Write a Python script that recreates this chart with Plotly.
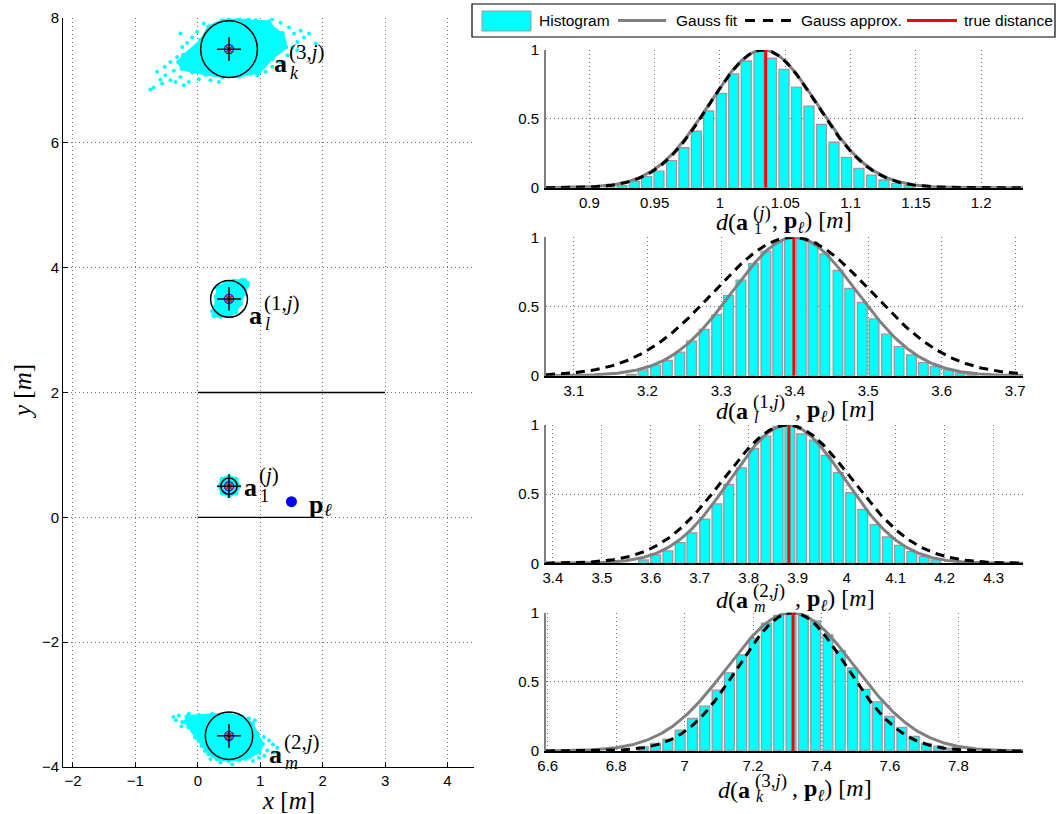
import numpy as np
import plotly.graph_objects as go

W, H = 1056, 814
CYAN = "#00FFFF"
SERIF = "Liberation Serif"
SANS = "Liberation Sans"

# ---------------- left panel: anchors, particle clouds, walls ----------------
anchor_x = [0.5, 0.5, 0.5, 0.5]
anchor_y = [7.5, 3.5, 0.5, -3.5]
circle_r = [0.455, 0.295, 0.13, 0.38]

agent_x = [1.5]
agent_y = [0.25]

wall_x0 = [0.0, 0.0]
wall_x1 = [3.0, 2.0]
wall_y = [2.0, 0.0]

# dense core outlines of the particle clouds
core_top_x = [-0.225, 0.043, 0.177, 0.391, 0.658, 0.926, 1.140, 1.247, 1.354, 1.407,
              1.193, 0.979, 0.658, 0.391, 0.123, -0.091, -0.251, -0.305]
core_top_y = [7.404, 7.644, 7.858, 7.954, 7.975, 7.954, 7.938, 7.804, 7.751, 7.537,
              7.350, 7.137, 7.067, 7.057, 7.099, 7.137, 7.190, 7.297]
core_mid_x = [0.326, 0.444, 0.578, 0.712, 0.792, 0.738, 0.685, 0.605, 0.498, 0.364,
              0.257, 0.273, 0.294]
core_mid_y = [3.691, 3.755, 3.787, 3.798, 3.718, 3.584, 3.424, 3.291, 3.237, 3.221,
              3.237, 3.371, 3.531]
core_low_x = [0.65, 0.61, 0.50, 0.39, 0.35, 0.39, 0.50, 0.61]
core_low_y = [0.50, 0.61, 0.65, 0.61, 0.50, 0.39, 0.35, 0.39]
core_bot_x = [-0.171, 0.016, 0.230, 0.498, 0.712, 0.872, 0.952, 1.033, 0.979, 0.819,
              0.658, 0.498, 0.310, 0.177, 0.070, -0.037, -0.144, -0.198]
core_bot_y = [-3.200, -3.173, -3.157, -3.157, -3.200, -3.307, -3.467, -3.627, -3.761,
              -3.841, -3.883, -3.894, -3.867, -3.787, -3.654, -3.520, -3.360, -3.280]

# scattered particles around the cores
spread_x = [-0.760, -0.706, -0.599, -0.519, -0.439, -0.385, -0.530, -0.439, -0.332,
            -0.251, -0.171, -0.091, -0.278, -0.011, 0.096, 0.498, 0.819, 1.193, 1.327,
            1.461, 1.541, 1.648, 1.782, 1.701, 1.889, 1.594, 1.514, 1.594, 1.434, 1.327,
            1.193, 1.086, 0.952, 0.337, 0.203, 0.016, -0.144, -0.278, -0.358, -0.653,
            -0.572, -0.225,
            0.26, 0.23, 0.80, 0.76, 0.30,
            -0.305, -0.251, -0.144, -0.262, -0.080, 0.016, 0.059, 1.059, 1.140, 1.204,
            1.273, 1.225, 1.113, 1.065, 0.979, 0.883, 0.754, 0.551, 0.364, 0.203, 0.112,
            0.915, 0.819, 0.647, -0.39, -0.35]
spread_y = [6.854, 6.886, 7.014, 7.083, 7.003, 7.153, 7.217, 7.297, 7.377,
            7.537, 7.601, 7.687, 7.751, 7.778, 7.911, 7.990, 7.990, 7.985, 7.922,
            7.847, 7.751, 7.794, 7.751, 7.687, 7.591, 7.617, 7.527, 7.484, 7.404, 7.297,
            7.217, 7.137, 7.083, 6.976, 7.003, 7.019, 6.976, 7.056, 6.976, 7.137,
            6.950, 6.923,
            3.22, 3.30, 3.76, 3.80, 3.68,
            -3.173, -3.280, -3.146, -3.349, -3.403, -3.477, -3.584, -3.520, -3.573, -3.638,
            -3.691, -3.766, -3.734, -3.819, -3.851, -3.905, -3.872, -3.958, -3.926, -3.872,
            -3.744, -3.253, -3.221, -3.168, -3.20, -3.25]

# ---------------- right panels: distance histograms ----------------
hist_centers = [
    [0.9158, 0.9250, 0.9344, 0.9439, 0.9533, 0.9629, 0.9724, 0.9819, 0.9913, 1.0010,
     1.0105, 1.0201, 1.0299, 1.0394, 1.0490, 1.0586, 1.0681, 1.0777, 1.0873, 1.0969,
     1.1064, 1.1160, 1.1256, 1.1351, 1.1447],
    [3.178, 3.194, 3.211, 3.227, 3.244, 3.260, 3.277, 3.294, 3.310, 3.327, 3.344, 3.361,
     3.377, 3.393, 3.409, 3.425, 3.441, 3.459, 3.475, 3.492, 3.508, 3.525, 3.542, 3.559,
     3.575, 3.591, 3.609, 3.625, 3.641],
    [3.585, 3.610, 3.635, 3.660, 3.684, 3.710, 3.735, 3.759, 3.785, 3.810, 3.835, 3.860,
     3.884, 3.908, 3.934, 3.958, 3.983, 4.008, 4.033, 4.058, 4.083, 4.108, 4.133, 4.158,
     4.182],
    [6.879, 6.915, 6.951, 6.987, 7.023, 7.059, 7.095, 7.131, 7.167, 7.203, 7.239, 7.275,
     7.311, 7.347, 7.383, 7.419, 7.455, 7.491, 7.527, 7.563, 7.599, 7.635, 7.671, 7.707,
     7.743, 7.779],
]
hist_heights = [
    [0.005, 0.015, 0.045, 0.08, 0.12, 0.196, 0.29, 0.41, 0.557, 0.685, 0.826, 0.92, 0.99,
     0.94, 0.86, 0.73, 0.593, 0.46, 0.33, 0.22, 0.14, 0.092, 0.056, 0.032, 0.015],
    [0.01, 0.04, 0.077, 0.11, 0.17, 0.25, 0.335, 0.44, 0.58, 0.69, 0.81, 0.90, 0.97, 0.99,
     1.0, 0.965, 0.88, 0.76, 0.63, 0.53, 0.41, 0.30, 0.21, 0.15, 0.094, 0.065, 0.04, 0.02,
     0.01],
    [0.024, 0.06, 0.09, 0.15, 0.22, 0.32, 0.43, 0.57, 0.69, 0.83, 0.92, 0.99, 1.0, 0.935,
     0.89, 0.78, 0.655, 0.51, 0.39, 0.28, 0.19, 0.13, 0.085, 0.05, 0.025],
    [0.03, 0.055, 0.085, 0.15, 0.235, 0.325, 0.44, 0.565, 0.695, 0.815, 0.925, 0.98, 0.99,
     0.98, 0.94, 0.84, 0.725, 0.60, 0.445, 0.355, 0.25, 0.17, 0.105, 0.055, 0.035, 0.02],
]
bin_width = [0.00955, 0.01653, 0.0249, 0.036]

fit_mu = [1.033, 3.400, 3.879, 7.312]
fit_sigma = [0.0414, 0.0848, 0.117, 0.187]
approx_mu = [1.033, 3.397, 3.879, 7.315]
approx_sigma = [0.0410, 0.1068, 0.1315, 0.159]
true_dist = [1.035, 3.399, 3.882, 7.317]

x_ranges = [[0.8668, 1.232], [3.062, 3.7105], [3.386, 4.360], [6.595, 7.989]]
x_ticks = [
    [0.9, 0.95, 1.0, 1.05, 1.1, 1.15, 1.2],
    [3.1, 3.2, 3.3, 3.4, 3.5, 3.6, 3.7],
    [3.4, 3.5, 3.6, 3.7, 3.8, 3.9, 4.0, 4.1, 4.2, 4.3],
    [6.6, 6.8, 7.0, 7.2, 7.4, 7.6, 7.8],
]
x_ticktext = [
    ["0.9", "0.95", "1", "1.05", "1.1", "1.15", "1.2"],
    ["3.1", "3.2", "3.3", "3.4", "3.5", "3.6", "3.7"],
    ["3.4", "3.5", "3.6", "3.7", "3.8", "3.9", "4", "4.1", "4.2", "4.3"],
    ["6.6", "6.8", "7", "7.2", "7.4", "7.6", "7.8"],
]
y_ticks = [0, 0.5, 1]
y_ticktext = ["0", "0.5", "1"]

# pixel geometry of the panels (top, bottom) and of the left map
hist_rows = [(50.0, 187.7), (237.3, 375.7), (425.0, 563.3), (612.7, 751.0)]
hist_left, hist_right = 546.0, 1023.0
map_left, map_right, map_top, map_bottom = 63.0, 474.0, 18.0, 767.0


def fx(px):
    return px / W


def fy(py):
    return 1.0 - py / H


fig = go.Figure()

# ---- left map ----
for cx, cy in [(core_top_x, core_top_y), (core_mid_x, core_mid_y),
               (core_low_x, core_low_y), (core_bot_x, core_bot_y)]:
    fig.add_trace(go.Scatter(x=cx + [cx[0]], y=cy + [cy[0]], mode="lines+markers",
                             fill="toself", fillcolor=CYAN,
                             line=dict(color=CYAN, width=2, shape="spline", smoothing=0.8),
                             marker=dict(color=CYAN, size=5),
                             xaxis="x", yaxis="y", hoverinfo="skip"))
fig.add_trace(go.Scatter(x=spread_x, y=spread_y, mode="markers",
                         marker=dict(color=CYAN, size=4), xaxis="x", yaxis="y"))

wx, wy = [], []
for x0, x1, y in zip(wall_x0, wall_x1, wall_y):
    wx += [x0, x1, None]
    wy += [y, y, None]
fig.add_trace(go.Scatter(x=wx, y=wy, mode="lines", line=dict(color="black", width=1.3),
                         xaxis="x", yaxis="y"))

fig.add_trace(go.Scatter(x=anchor_x, y=anchor_y, mode="markers",
                         marker=dict(symbol="circle-open", size=9, color="blue",
                                     line=dict(width=1.3, color="blue")),
                         xaxis="x", yaxis="y"))
fig.add_trace(go.Scatter(x=anchor_x, y=anchor_y, mode="markers",
                         marker=dict(symbol="x-thin", size=7, color="red",
                                     line=dict(width=1.5, color="red")),
                         xaxis="x", yaxis="y"))
fig.add_trace(go.Scatter(x=anchor_x, y=anchor_y, mode="markers",
                         marker=dict(symbol="cross-thin", size=17, color="black",
                                     line=dict(width=1.5, color="black")),
                         xaxis="x", yaxis="y"))
fig.add_trace(go.Scatter(x=agent_x, y=agent_y, mode="markers",
                         marker=dict(symbol="circle", size=11, color="#0000FF"),
                         xaxis="x", yaxis="y"))

shapes = []
for cx, cy, r in zip(anchor_x, anchor_y, circle_r):
    shapes.append(dict(type="circle", xref="x", yref="y", x0=cx - r, x1=cx + r,
                       y0=cy - r, y1=cy + r, line=dict(color="black", width=1.5)))

# ---- histogram panels ----
for i in range(4):
    xa = "x%d" % (i + 2)
    ya = "y%d" % (i + 2)
    fig.add_trace(go.Bar(x=hist_centers[i], y=hist_heights[i], width=0.8 * bin_width[i],
                         marker=dict(color=CYAN, line=dict(color="#9a9a9a", width=1.3)),
                         xaxis=xa, yaxis=ya))
    xs = np.linspace(x_ranges[i][0], x_ranges[i][1], 400)
    fig.add_trace(go.Scatter(x=xs, y=np.exp(-0.5 * ((xs - fit_mu[i]) / fit_sigma[i]) ** 2),
                             mode="lines", line=dict(color="#808080", width=3),
                             xaxis=xa, yaxis=ya))
    fig.add_trace(go.Scatter(x=xs,
                             y=np.exp(-0.5 * ((xs - approx_mu[i]) / approx_sigma[i]) ** 2),
                             mode="lines", line=dict(color="black", width=3, dash="9px,6px"),
                             xaxis=xa, yaxis=ya))
    fig.add_trace(go.Scatter(x=[true_dist[i], true_dist[i]], y=[0, 1], mode="lines",
                             line=dict(color="red", width=3), xaxis=xa, yaxis=ya))

grid = dict(showgrid=True, gridcolor="#707070", gridwidth=1, griddash="1px,3px",
            zeroline=False, automargin=False)
tickfont = dict(family=SANS, size=15, color="black")

layout_axes = {}
layout_axes["xaxis"] = dict(domain=[fx(map_left), fx(map_right)], range=[-2.16, 4.425],
                            tickmode="array", tickvals=[-2, -1, 0, 1, 2, 3, 4],
                            ticks="inside", ticklen=5, tickcolor="black",
                            showline=True, linecolor="black", linewidth=1,
                            tickfont=tickfont, anchor="y", **grid)
layout_axes["yaxis"] = dict(domain=[fy(map_bottom), fy(map_top)], range=[-4, 8],
                            tickmode="array", tickvals=[-4, -2, 0, 2, 4, 6, 8],
                            ticks="inside", ticklen=5, tickcolor="black",
                            showline=True, linecolor="black", linewidth=1,
                            tickfont=tickfont, anchor="x", **grid)
for i, (top, bot) in enumerate(hist_rows):
    n = i + 2
    layout_axes["xaxis%d" % n] = dict(domain=[fx(hist_left), fx(hist_right)],
                                      range=x_ranges[i], tickmode="array",
                                      tickvals=x_ticks[i], ticktext=x_ticktext[i],
                                      ticks="", showline=True, linecolor="black",
                                      linewidth=2, tickfont=tickfont,
                                      ticklabelstandoff=0, anchor="y%d" % n, **grid)
    layout_axes["yaxis%d" % n] = dict(domain=[fy(bot), fy(top)], range=[0, 1],
                                      tickmode="array", tickvals=y_ticks,
                                      ticktext=y_ticktext, ticks="", showline=True,
                                      linecolor="#808080", linewidth=2, tickfont=tickfont,
                                      ticklabelstandoff=2, anchor="x%d" % n, **grid)

# ---- text labels ----
annotations = []


def label(text, px, py, size, xanchor="left", angle=0):
    annotations.append(dict(text=text, x=fx(px), y=fy(py), xref="paper", yref="paper",
                            xanchor=xanchor, yanchor="middle", showarrow=False,
                            textangle=angle, font=dict(family=SERIF, size=size,
                                                       color="black")))


# anchor names in the map
map_labels = [
    # (superscript, subscript, left of "a", middle y of "a")
    ("(3,<i>j</i>)", "<i>k</i>", 272, 64),
    ("(1,<i>j</i>)", "<i>l</i>", 247, 315),
    ("(<i>j</i>)", "1", 242, 487),
    ("(2,<i>j</i>)", "<i>m</i>", 267, 754),
]
for sup, sub, ax_, ay_ in map_labels:
    label("<b>a</b>", ax_, ay_, 26)
    label(sup, ax_ + 15, ay_ - 12, 21)
    label(sub, ax_ + 15.5, ay_ + 9, 18)
label("<b>p</b>", 307, 504, 26)
label("<i>ℓ</i>", 322, 510, 18)

label("<i>x</i> [<i>m</i>]", 288, 800, 25, xanchor="center")
label("<i>y</i> [<i>m</i>]", 22, 392, 25, xanchor="center", angle=-90)

# histogram axis titles d(a, p) [m]
hist_titles = [
    ("(<i>j</i>)", "1", 750, 770, 222),
    ("(1,<i>j</i>)", "<i>l</i>", 750, 793, 411),
    ("(2,<i>j</i>)", "<i>m</i>", 750, 793, 600),
    ("(3,<i>j</i>)", "<i>k</i>", 752, 790, 790),
]
for sup, sub, a_end, rest_x, ty in hist_titles:
    label("<i>d</i>(<b>a</b>", a_end, ty, 24, xanchor="right")
    label(sup, a_end + 1, ty - 9, 19)
    label(sub, a_end + 2, ty + 6, 16)
    label(", <b>p</b><sub><i>ℓ</i></sub>) [<i>m</i>]", rest_x, ty, 24)

# ---- legend ----
shapes.append(dict(type="rect", xref="paper", yref="paper", x0=fx(472), x1=fx(1055),
                   y0=fy(37), y1=fy(4), line=dict(color="black", width=1.2),
                   fillcolor="white", layer="above"))
shapes.append(dict(type="rect", xref="paper", yref="paper", x0=fx(482), x1=fx(531),
                   y0=fy(31), y1=fy(11), line=dict(color="#9a9a9a", width=1),
                   fillcolor=CYAN, layer="above"))
for x0, x1, color, dash in [(618, 666, "#808080", "solid"), (745, 791, "black", "10px,8px"),
                            (907, 957, "red", "solid")]:
    shapes.append(dict(type="line", xref="paper", yref="paper", x0=fx(x0), x1=fx(x1),
                       y0=fy(20.5), y1=fy(20.5), line=dict(color=color, width=3, dash=dash),
                       layer="above"))
for txt, lx in [("Histogram", 537), ("Gauss fit", 674), ("Gauss approx.", 799),
                ("true distance", 962)]:
    annotations.append(dict(text=txt, x=fx(lx), y=fy(20.5), xref="paper", yref="paper",
                            xanchor="left", yanchor="middle", showarrow=False,
                            font=dict(family=SANS, size=15.5, color="black")))

fig.update_layout(width=W, height=H,
                  margin=dict(l=0, r=0, t=0, b=0, pad=0, autoexpand=False),
                  paper_bgcolor="white", plot_bgcolor="white", showlegend=False,
                  shapes=shapes, annotations=annotations, **layout_axes)

fig.write_html("out.html")
